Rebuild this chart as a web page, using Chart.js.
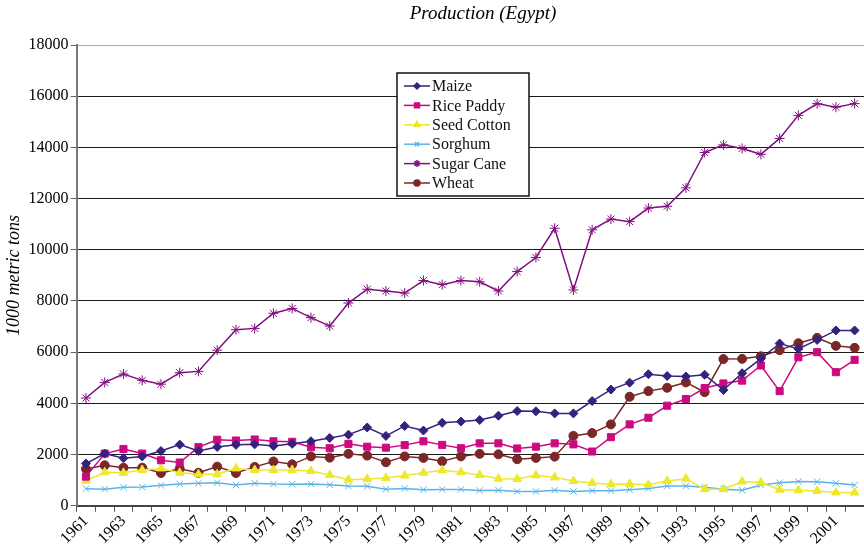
<!DOCTYPE html>
<html>
<head>
<meta charset="utf-8">
<script src="https://cdn.jsdelivr.net/npm/chart.js@4.4.1/dist/chart.umd.min.js"></script>
<style>
    html, body { margin: 0; padding: 0; background: #fff; }
    #wrap { width: 864px; height: 550px; position: relative; }
</style>
</head>
<body>
<div id="wrap"><canvas id="chart-production"></canvas></div>
<script>
// Data (1000 metric tons)
const years = ['1961','1962','1963','1964','1965','1966','1967','1968','1969','1970',
    '1971','1972','1973','1974','1975','1976','1977','1978','1979','1980',
    '1981','1982','1983','1984','1985','1986','1987','1988','1989','1990',
    '1991','1992','1993','1994','1995','1996','1997','1998','1999','2000',
    '2001','2002'];

const maize = [1650,2040,1860,1930,2140,2390,2140,2300,2380,2400,
    2340,2420,2520,2650,2780,3060,2730,3120,2940,3240,
    3290,3350,3520,3700,3690,3610,3610,4090,4540,4810,
    5140,5070,5050,5120,4520,5180,5750,6340,6130,6480,
    6850,6850];

const ricePaddy = [1140,2040,2220,2040,1780,1690,2290,2580,2550,2590,
    2520,2500,2290,2250,2420,2310,2270,2370,2520,2380,
    2250,2440,2440,2240,2310,2440,2400,2120,2680,3180,
    3440,3910,4170,4600,4780,4890,5480,4480,5800,6000,
    5220,5700];

const seedCotton = [980,1310,1290,1400,1460,1290,1230,1230,1460,1400,
    1400,1400,1360,1200,1020,1050,1090,1180,1290,1390,
    1310,1200,1060,1050,1190,1110,970,890,840,850,
    820,970,1060,650,650,950,910,630,610,580,
    520,520];

const sorghum = [670,650,720,730,800,850,880,900,810,880,
    850,840,850,820,770,760,650,680,630,640,
    640,600,610,560,560,610,560,590,590,630,
    680,770,770,720,650,610,810,900,950,940,
    880,810];

const sugarCane = [4210,4820,5150,4900,4750,5200,5250,6080,6880,6930,
    7520,7710,7350,7020,7920,8460,8390,8310,8800,8640,
    8800,8750,8390,9150,9700,10840,8430,10780,11200,11100,
    11630,11700,12420,13800,14100,13960,13730,14350,15250,15710,
    15570,15710];

const wheat = [1440,1580,1490,1490,1280,1450,1290,1530,1280,1520,
    1730,1620,1930,1880,2030,1960,1700,1930,1870,1740,
    1930,2030,2010,1820,1870,1920,2730,2840,3180,4260,
    4480,4610,4820,4440,5730,5740,5840,6080,6350,6560,
    6250,6170];

const yTicks = [0,2000,4000,6000,8000,10000,12000,14000,16000,18000];

const chartTitle = 'Production (Egypt)';
const yTitle = '1000 metric tons';

const serif = '"Liberation Serif", "DejaVu Serif", serif';

// Series styles
const series = [
    { label: 'Maize',       data: maize,      color: '#35217e', point: 'rectRot',  radius: 4.5 },
    { label: 'Rice Paddy',  data: ricePaddy,  color: '#cc0a7f', point: 'rect',     radius: 5 },
    { label: 'Seed Cotton', data: seedCotton, color: '#ece82c', point: 'triangle', radius: 5 },
    { label: 'Sorghum',     data: sorghum,    color: '#5cb4e6', point: 'crossRot', radius: 4.5 },
    { label: 'Sugar Cane',  data: sugarCane,  color: '#80107e', point: 'star',     radius: 5 },
    { label: 'Wheat',       data: wheat,      color: '#7a2727', point: 'circle',   radius: 4.5 }
];

// Title drawn by hand so it sits where the reference has it
const titlePlugin = {
    id: 'titlePlugin',
    afterDraw(chart) {
        const ctx = chart.ctx;
        ctx.save();
        ctx.font = 'italic 19px ' + serif;
        ctx.fillStyle = '#000';
        ctx.textAlign = 'center';
        ctx.textBaseline = 'middle';
        ctx.fillText(chartTitle, 483, 14);
        ctx.restore();
    }
};

// Boxed legend inside the plot area
const legendPlugin = {
    id: 'legendPlugin',
    afterDraw(chart) {
        const ctx = chart.ctx;
        const x0 = 397, y0 = 73, w = 132, h = 123;
        ctx.save();
        ctx.fillStyle = '#fff';
        ctx.fillRect(x0, y0, w, h);
        ctx.strokeStyle = '#111';
        ctx.lineWidth = 1.5;
        ctx.strokeRect(x0, y0, w, h);

        ctx.font = '16px ' + serif;
        ctx.textBaseline = 'middle';
        ctx.textAlign = 'left';

        chart.data.datasets.forEach((ds, i) => {
            const y = y0 + 13 + i * 19.4;
            ctx.strokeStyle = ds.borderColor;
            ctx.lineWidth = 1.5;
            ctx.beginPath();
            ctx.moveTo(x0 + 7, y);
            ctx.lineTo(x0 + 33, y);
            ctx.stroke();

            ctx.fillStyle = ds.pointBackgroundColor;
            ctx.strokeStyle = ds.pointBorderColor;
            Chart.helpers.drawPoint(ctx, {
                pointStyle: ds.pointStyle,
                radius: ds.pointRadius - 1.5,
                rotation: 0,
                borderWidth: 1
            }, x0 + 20, y);

            ctx.fillStyle = '#111';
            ctx.fillText(ds.label, x0 + 35, y + 1);
        });
        ctx.restore();
    }
};

document.addEventListener('DOMContentLoaded', () => {
    const ctx = document.getElementById('chart-production').getContext('2d');

    new Chart(ctx, {
        type: 'line',
        data: {
            labels: years,
            datasets: series.map(s => ({
                label: s.label,
                data: s.data,
                borderColor: s.color,
                backgroundColor: s.color,
                pointBackgroundColor: s.color,
                pointBorderColor: s.color,
                pointStyle: s.point,
                pointRadius: s.radius,
                pointBorderWidth: 1,
                borderWidth: 1.5,
                tension: 0,
                fill: false
            }))
        },
        options: {
            responsive: true,
            maintainAspectRatio: false,
            animation: false,
            layout: {
                autoPadding: false,
                padding: { top: 45, right: 0, left: 0, bottom: 2 }
            },
            plugins: {
                legend: { display: false },
                title: { display: false },
                tooltip: { enabled: false }
            },
            scales: {
                x: {
                    offset: true,
                    // let the plot run to the right edge like the reference
                    afterFit: axis => { axis.paddingRight = 0; },
                    border: { color: '#444', width: 2 },
                    grid: {
                        offset: true,
                        drawOnChartArea: false,
                        drawTicks: true,
                        tickLength: 6,
                        tickColor: '#555'
                    },
                    ticks: {
                        autoSkip: false,
                        minRotation: 45,
                        maxRotation: 45,
                        padding: 0,
                        color: '#000',
                        font: { family: serif, size: 16 },
                        callback: (val, idx) => idx % 2 === 0 ? years[idx] : ''
                    }
                },
                y: {
                    min: yTicks[0],
                    max: yTicks[yTicks.length - 1],
                    afterBuildTicks: axis => {
                        axis.ticks = yTicks.map(v => ({ value: v }));
                    },
                    border: { color: '#777', width: 2 },
                    grid: {
                        color: c => c.tick && c.tick.value === 18000 ? '#aaa' : '#1a1a1a',
                        lineWidth: 1,
                        tickLength: 6,
                        tickColor: '#666'
                    },
                    ticks: {
                        padding: 2,
                        color: '#000',
                        font: { family: serif, size: 16 },
                        callback: v => String(v)
                    },
                    title: {
                        display: true,
                        text: yTitle,
                        color: '#000',
                        font: { family: serif, size: 18, style: 'italic' },
                        padding: { top: 3, bottom: 2 }
                    }
                }
            }
        },
        plugins: [titlePlugin, legendPlugin]
    });
});
</script>
</body>
</html>
